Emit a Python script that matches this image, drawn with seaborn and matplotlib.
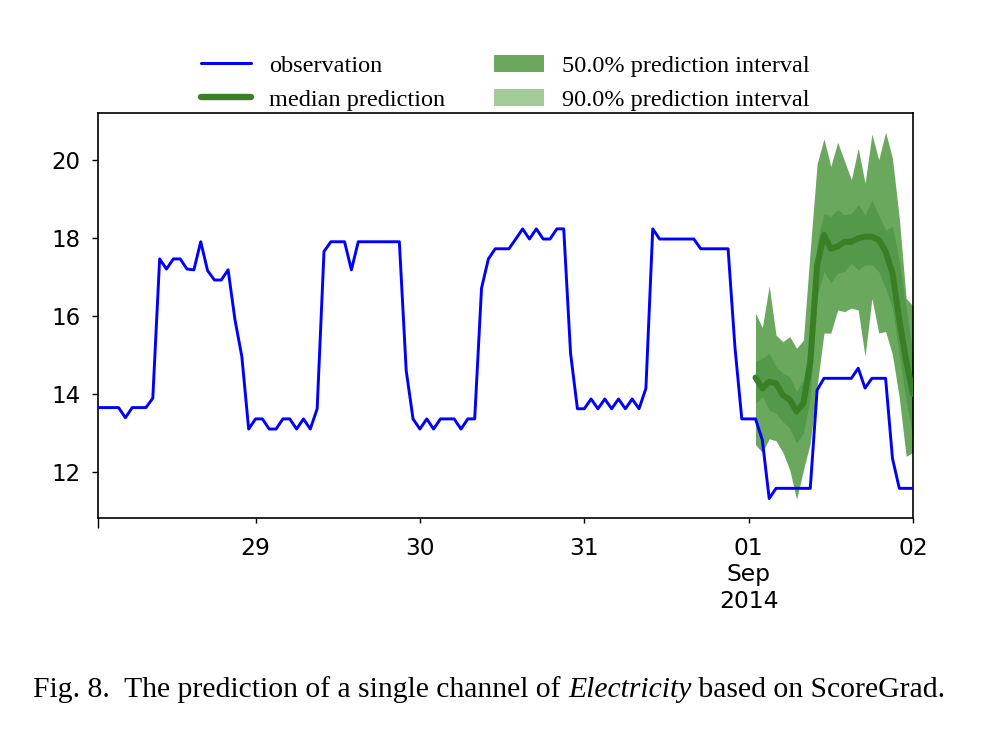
import numpy as np
import pandas as pd
import matplotlib
matplotlib.use("Agg")
import matplotlib.pyplot as plt
import seaborn as sns
from matplotlib.lines import Line2D
from matplotlib.patches import Patch

# ---------------- data ----------------
obs_start = "2014-08-28 01:00"
observation = [
    13.65, 13.65, 13.65, 13.65, 13.39, 13.65, 13.65, 13.65, 13.89, 17.46,
    17.20, 17.46, 17.46, 17.20, 17.18, 17.90, 17.16, 16.92, 16.92, 17.18,
    15.90, 14.96, 13.10, 13.36, 13.36, 13.10, 13.10, 13.36, 13.36, 13.10,
    13.36, 13.10, 13.62, 17.65, 17.90, 17.90, 17.90, 17.18, 17.90, 17.90,
    17.90, 17.90, 17.90, 17.90, 17.90, 14.60, 13.36, 13.10, 13.36, 13.10,
    13.36, 13.36, 13.36, 13.10, 13.36, 13.36, 16.71, 17.46, 17.72, 17.72,
    17.72, 17.97, 18.23, 17.97, 18.23, 17.97, 17.97, 18.23, 18.23, 15.04,
    13.62, 13.62, 13.87, 13.62, 13.87, 13.62, 13.87, 13.62, 13.87, 13.62,
    14.14, 18.23, 17.97, 17.97, 17.97, 17.97, 17.97, 17.97, 17.72, 17.72,
    17.72, 17.72, 17.72, 15.20, 13.36, 13.36, 13.36, 12.82, 11.32, 11.58,
    11.58, 11.58, 11.58, 11.58, 11.58, 14.10, 14.40, 14.40, 14.40, 14.40,
    14.40, 14.66, 14.15, 14.40, 14.40, 14.40, 12.35, 11.58, 11.58, 11.58,
]

pred_start = "2014-09-01 01:00"
median_pred = [
    14.42, 14.14, 14.31, 14.27, 13.97, 13.85, 13.55, 13.76, 14.80, 17.30,
    18.08, 17.72, 17.78, 17.90, 17.90, 17.99, 18.03, 18.03, 17.95, 17.65,
    17.10, 15.90, 14.85, 14.00,
]
q75 = [
    14.83, 14.91, 15.04, 14.70, 14.53, 14.44, 14.06, 14.36, 15.50, 17.90,
    18.63, 18.55, 18.72, 18.59, 18.63, 18.85, 18.59, 18.97, 18.59, 18.20,
    18.30, 17.40, 16.20, 15.00,
]
q25 = [
    13.76, 13.93, 13.59, 13.50, 13.29, 13.12, 12.74, 12.99, 13.90, 16.50,
    17.14, 16.84, 17.10, 17.14, 17.35, 17.18, 17.31, 17.31, 17.14, 16.70,
    16.20, 15.00, 13.80, 12.90,
]
q95 = [
    16.07, 15.70, 16.77, 15.51, 15.34, 15.47, 15.17, 15.38, 17.70, 19.90,
    20.54, 19.83, 20.45, 19.97, 19.49, 20.30, 19.40, 20.66, 20.00, 20.71,
    20.04, 18.50, 16.45, 16.25,
]
q05 = [
    12.70, 12.50, 12.85, 12.80, 12.50, 12.05, 11.30, 12.05, 12.74, 14.20,
    15.56, 15.56, 16.15, 16.11, 16.20, 16.15, 14.96, 16.45, 15.56, 15.60,
    15.00, 13.90, 12.40, 12.50,
]

y_ticks = [12, 14, 16, 18, 20]
x_tick_dates = ["2014-08-29", "2014-08-30", "2014-08-31", "2014-09-01", "2014-09-02"]
x_tick_labels = ["29", "30", "31", "01\nSep\n2014", "02"]
legend_labels = ["observation", "median prediction",
                 "50.0% prediction interval", "90.0% prediction interval"]
caption_parts = ["Fig. 8.  The prediction of a single channel of ", "Electricity",
                 " based on ScoreGrad."]

# ---------------- styling ----------------
sns.set_style("ticks")
plt.rcParams["font.family"] = ["DejaVu Sans"]
plt.rcParams["text.color"] = "black"
plt.rcParams["xtick.color"] = "black"
plt.rcParams["ytick.color"] = "black"
plt.rcParams["axes.edgecolor"] = "black"

C_OBS = "#0000ff"
C_MED = "#3a7f25"
C_50 = "#54994a"
C_90 = "#6aa85e"
C_50_LEG = "#6aa85e"
C_90_LEG = "#a2cb98"

obs_idx = pd.date_range(obs_start, periods=len(observation), freq="h")
pred_idx = pd.date_range(pred_start, periods=len(median_pred), freq="h")
obs_df = pd.DataFrame({"time": obs_idx, "value": observation})
pred_df = pd.DataFrame({"time": pred_idx, "median": median_pred,
                        "q05": q05, "q25": q25, "q75": q75, "q95": q95})

fig = plt.figure(figsize=(9.98, 7.34), dpi=100)
ax = fig.add_axes([98 / 998, 1 - 518 / 734, (913 - 98) / 998, (518 - 113) / 734])

ax.fill_between(pred_df["time"], pred_df["q05"], pred_df["q95"],
                color=C_90, linewidth=0, zorder=1)
ax.fill_between(pred_df["time"], pred_df["q25"], pred_df["q75"],
                color=C_50, linewidth=0, zorder=2)
sns.lineplot(data=obs_df, x="time", y="value", ax=ax, color=C_OBS,
             linewidth=2.1, zorder=3)
sns.lineplot(data=pred_df, x="time", y="median", ax=ax, color=C_MED,
             linewidth=4.3, zorder=4)

ax.set_xlim(obs_idx[0], obs_idx[-1])
ax.set_ylim(10.82, 21.2)
ax.set_xlabel("")
ax.set_ylabel("")

ax.set_yticks(y_ticks)
ax.set_yticklabels([str(v) for v in y_ticks], fontsize=16.5)
ax.set_xticks(pd.to_datetime(x_tick_dates))
ax.set_xticklabels(x_tick_labels, fontsize=16.8)
ax.set_xticks([obs_idx[0]], minor=True)
ax.tick_params(axis="x", which="major", length=3.5, width=1.0, pad=10,
               color="black", labelcolor="black")
ax.tick_params(axis="x", which="minor", length=7, width=1.0, color="black")
ax.tick_params(axis="y", which="major", length=4.5, width=1.0, pad=8,
               color="black", labelcolor="black")
for s in ax.spines.values():
    s.set_visible(True)
    s.set_linewidth(1.2)
    s.set_color("black")

handles = [
    Line2D([0], [0], color=C_OBS, lw=2.2),
    Line2D([0], [0], color=C_MED, lw=4.6),
    Patch(facecolor=C_50_LEG, edgecolor="none"),
    Patch(facecolor=C_90_LEG, edgecolor="none"),
]
leg = ax.legend(handles, legend_labels, loc="lower center", bbox_to_anchor=(0.5, 0.981),
                ncol=2, frameon=False, handlelength=2.06, handletextpad=0.74,
                columnspacing=2.0, labelspacing=0.5, borderaxespad=0.0,
                prop={"family": ["Liberation Serif"], "size": 17.5})
for txt in leg.get_texts():
    txt.set_color("black")

# caption with italic word
fig.canvas.draw()
renderer = fig.canvas.get_renderer()
x_px = 33
y_px = 734 - 697
styles = ["normal", "italic", "normal"]
for part, st in zip(caption_parts, styles):
    t = fig.text(x_px / 998, y_px / 734, part, fontsize=21.3, style=st,
                 family=["Liberation Serif"], ha="left", va="baseline",
                 color="black")
    bb = t.get_window_extent(renderer=renderer)
    x_px = bb.x1

fig.savefig("out.png", dpi=100)
